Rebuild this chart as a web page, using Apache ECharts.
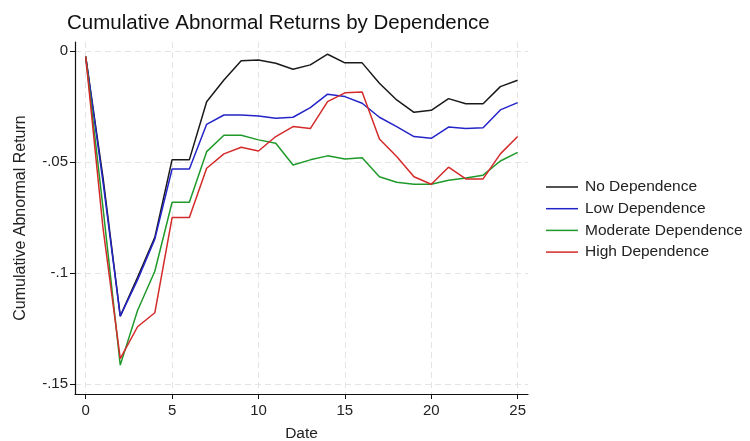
<!DOCTYPE html>
<html>
<head>
<meta charset="utf-8">
<script src="https://cdn.jsdelivr.net/npm/echarts@6/dist/echarts.min.js"></script>
<style>html,body{margin:0;padding:0;background:#fff}#c{width:750px;height:441px}</style>
</head>
<body>
<div id="c"></div>
<script>
var dates = [0,1,2,3,4,5,6,7,8,9,10,11,12,13,14,15,16,17,18,19,20,21,22,23,24,25];
var noDep = [-0.0026,-0.057,-0.1195,-0.102,-0.084,-0.049,-0.049,-0.0229,-0.0131,-0.0044,-0.0041,-0.0056,-0.0083,-0.0063,-0.0015,-0.0054,-0.0054,-0.0146,-0.0221,-0.0277,-0.0268,-0.0215,-0.0238,-0.0238,-0.0161,-0.0132];
var lowDep = [-0.0026,-0.059,-0.1195,-0.1032,-0.0848,-0.0532,-0.0532,-0.0331,-0.0289,-0.0289,-0.0293,-0.0304,-0.0299,-0.0256,-0.0195,-0.0206,-0.0236,-0.0299,-0.0341,-0.0386,-0.0394,-0.0343,-0.035,-0.0346,-0.0266,-0.0233];
var modDep = [-0.0026,-0.0706,-0.1416,-0.1170,-0.0993,-0.0682,-0.0682,-0.0454,-0.038,-0.038,-0.0401,-0.0416,-0.0514,-0.0491,-0.0473,-0.0487,-0.0482,-0.0567,-0.0592,-0.0601,-0.0601,-0.0583,-0.0573,-0.056,-0.0496,-0.0457];
var highDep = [-0.0026,-0.0798,-0.1387,-0.1243,-0.118,-0.0751,-0.0751,-0.0529,-0.0464,-0.0434,-0.0451,-0.0386,-0.0341,-0.035,-0.0229,-0.0189,-0.0185,-0.0397,-0.0476,-0.0567,-0.0601,-0.0524,-0.0577,-0.0577,-0.0464,-0.0386];
var xTicks = [0,5,10,15,20,25];
var yTicks = [0,-0.05,-0.1,-0.15];
var yTickLabels = ['0','-.05','-.1','-.15'];
var seriesNames = ['No Dependence','Low Dependence','Moderate Dependence','High Dependence'];
var seriesColors = ['#1a1a1a','#2424c8','#1f9a2a','#d42a2a'];
var seriesData = [noDep, lowDep, modDep, highDep];

var chart = echarts.init(document.getElementById('c'));
var font = 'Liberation Sans, Arial, sans-serif';
chart.setOption({
  animation: false,
  title: {text: 'Cumulative Abnormal Returns by Dependence', left: 62, top: 8,
    textStyle: {fontFamily: font, fontSize: 20.5, fontWeight: 'normal', color: '#111'}},
  legend: {orient: 'vertical', left: 541, top: 174, icon: 'rect', itemWidth: 32, itemHeight: 1.5, itemGap: 5.7,
    textStyle: {fontFamily: font, fontSize: 15.5, lineHeight: 16, color: '#222', padding: [0, 0, 0, 2]}, data: seriesNames},
  grid: {left: 75, right: 222, top: 42, bottom: 47, outerBoundsMode: 'none', containLabel: false},
  xAxis: {type: 'value', min: -0.62, max: 25.6, name: 'Date', nameLocation: 'middle', nameGap: 32,
    nameTextStyle: {fontFamily: font, fontSize: 15.5, color: '#222'},
    axisLine: {show: true, onZero: false, lineStyle: {color: '#111', width: 1.2}},
    axisTick: {show: true, length: 5, customValues: xTicks, lineStyle: {color: '#111'}},
    axisLabel: {customValues: xTicks, fontFamily: font, fontSize: 15, color: '#222', margin: 9},
    splitLine: {show: true, lineStyle: {color: '#e4e4e4', type: [6, 4], width: 1}}},
  yAxis: {type: 'value', min: -0.1546, max: 0.004, name: 'Cumulative Abnormal Return', nameLocation: 'middle', nameGap: 46,
    nameTextStyle: {fontFamily: font, fontSize: 16, color: '#222'},
    axisLine: {show: true, onZero: false, lineStyle: {color: '#111', width: 1.2}},
    axisTick: {show: true, length: 5, customValues: yTicks, lineStyle: {color: '#111'}},
    axisLabel: {customValues: yTicks, fontFamily: font, fontSize: 15, color: '#222', margin: 7,
      formatter: function (v) { var i = yTicks.findIndex(function (t) { return Math.abs(t - v) < 1e-9; }); return i >= 0 ? yTickLabels[i] : ''; }},
    splitLine: {show: true, lineStyle: {color: '#e4e4e4', type: [6, 4], width: 1}}},
  series: seriesNames.map(function (n, k) {
    return {name: n, type: 'line', symbol: 'none', color: seriesColors[k],
      lineStyle: {width: 1.5, color: seriesColors[k]},
      data: dates.map(function (d, i) { return [d, seriesData[k][i]]; })};
  })
});
</script>
</body>
</html>
